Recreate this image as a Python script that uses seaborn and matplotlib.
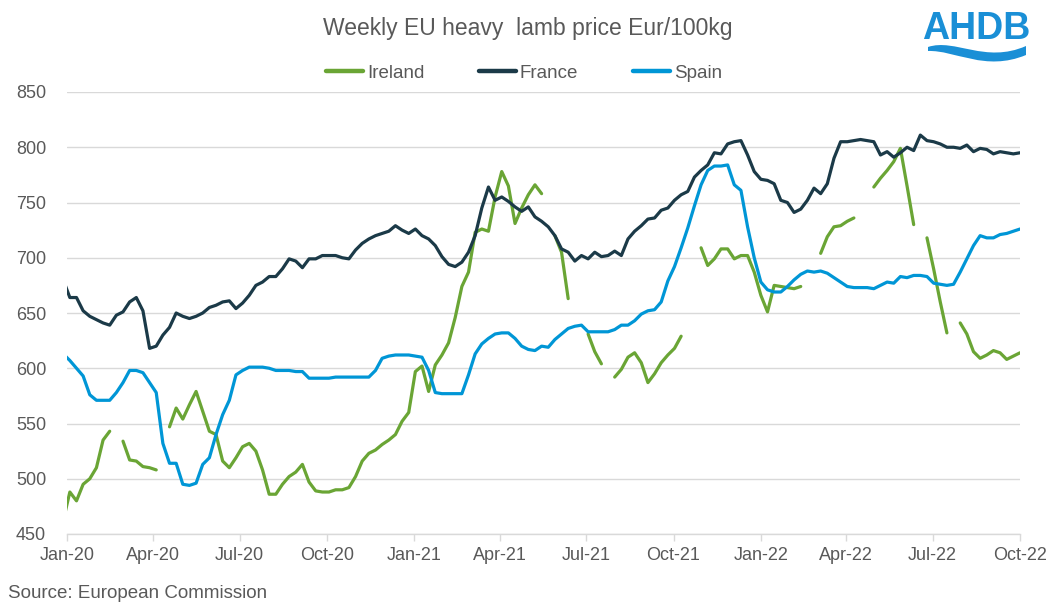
import numpy as np
import pandas as pd
import seaborn as sns
import matplotlib.pyplot as plt
import matplotlib.dates as mdates
from matplotlib.path import Path
from matplotlib.patches import PathPatch

nan = np.nan

# weekly prices (Eur/100kg); first week sits just before the axis start
start_date = "2019-12-28"
countries = ["Ireland", "France", "Spain"]

ireland = [
    462,
    488, 480, 495, 500, 510, 535, 543, nan, 534, 517,
    516, 511, 510, 508, nan, 547, 564, 554, 567, 579,
    561, 543, 540, 516, 510, 519, 529, 532, 525, 508,
    486, 486, 495, 502, 506, 513, 497, 489, 488, 488,
    490, 490, 492, 502, 516, 523, 526, 531, 535, 540,
    552, 560, 597, 602, 579, 603, 612, 623, 646, 674,
    687, 723, 726, 724, 755, 778, 765, 731, 745, 757,
    766, 758, nan, 720, 705, 663, nan, nan, 631, 615,
    604, nan, 592, 599, 610, 614, 605, 587, 595, 605,
    612, 618, 629, nan, nan, 709, 693, 699, 708, 708,
    699, 702, 702, 687, 666, 651, 675, 674, 673, 672,
    674, nan, nan, 704, 719, 728, 729, 733, 736, nan,
    nan, 764, 772, 779, 787, 799, 765, 730, nan, 718,
    690, 660, 632, nan, 641, 631, 615, 609, 612, 616,
    614, 608, 611, 614,
]

france = [
    680,
    664, 664, 652, 647, 644, 641, 639, 648, 651, 660,
    664, 652, 618, 620, 630, 637, 650, 647, 645, 647,
    650, 655, 657, 660, 661, 654, 659, 666, 675, 678,
    683, 683, 690, 699, 697, 691, 699, 699, 702, 702,
    702, 700, 699, 707, 713, 717, 720, 722, 724, 729,
    725, 722, 726, 720, 717, 711, 701, 694, 692, 696,
    705, 720, 745, 764, 752, 755, 751, 746, 742, 746,
    737, 733, 728, 720, 708, 705, 697, 702, 699, 705,
    701, 702, 706, 702, 717, 724, 729, 735, 736, 743,
    745, 752, 757, 760, 773, 779, 784, 795, 794, 803,
    805, 806, 793, 778, 771, 770, 767, 752, 750, 741,
    744, 752, 763, 758, 767, 790, 805, 805, 806, 807,
    806, 805, 793, 796, 791, 795, 800, 797, 811, 806,
    805, 803, 800, 800, 799, 802, 796, 799, 798, 794,
    796, 795, 794, 795,
]

spain = [
    613,
    607, 600, 593, 576, 571, 571, 571, 578, 587, 598,
    598, 596, 587, 578, 532, 514, 514, 495, 494, 496,
    513, 519, 540, 558, 571, 594, 598, 601, 601, 601,
    600, 598, 598, 598, 597, 597, 591, 591, 591, 591,
    592, 592, 592, 592, 592, 592, 598, 609, 611, 612,
    612, 612, 611, 610, 598, 578, 577, 577, 577, 577,
    594, 613, 622, 627, 631, 632, 632, 627, 620, 617,
    616, 620, 619, 626, 631, 636, 638, 639, 633, 633,
    633, 633, 635, 639, 639, 643, 649, 652, 653, 660,
    679, 692, 709, 727, 747, 766, 779, 783, 783, 784,
    766, 761, 728, 700, 678, 671, 669, 669, 674, 680,
    685, 688, 687, 688, 686, 682, 678, 674, 673, 673,
    673, 672, 675, 678, 677, 683, 682, 684, 684, 683,
    677, 676, 675, 676, 687, 699, 711, 720, 718, 718,
    721, 722, 724, 726,
]

y_ticks = [450, 500, 550, 600, 650, 700, 750, 800, 850]

colors = {"Ireland": "#6AA535", "France": "#1B3A48", "Spain": "#0096D6"}
grey = "#595959"
grid_grey = "#D9D9D9"

# ── build long table, one segment id per unbroken run ──
dates = pd.date_range(start_date, periods=len(france), freq="7D")
frames = []
for name, vals in zip(countries, [ireland, france, spain]):
    d = pd.DataFrame({"date": dates, "price": vals, "country": name})
    d["segment"] = d["price"].isna().cumsum()   # gaps in the series break the line
    frames.append(d.dropna())
df = pd.concat(frames, ignore_index=True)

sns.set_theme(style="white")
plt.rcParams["font.family"] = ["Liberation Sans", "DejaVu Sans"]

W, H = 1054, 614
fig = plt.figure(figsize=(W / 100, H / 100), dpi=100)
ax = fig.add_axes([67 / W, 80 / H, 953 / W, 442 / H])

sns.lineplot(
    data=df, x="date", y="price", hue="country", hue_order=countries,
    units="segment", estimator=None, palette=colors, linewidth=2.3, ax=ax,
)
for ln in ax.get_lines():
    ln.set_solid_joinstyle("round")
    ln.set_solid_capstyle("round")

ax.set_xlim(pd.Timestamp("2020-01-01"), pd.Timestamp("2022-10-01"))
ax.set_ylim(450, 850)
ax.set_yticks(y_ticks)
ax.xaxis.set_major_locator(mdates.MonthLocator(bymonth=[1, 4, 7, 10]))
ax.xaxis.set_major_formatter(mdates.DateFormatter("%b-%y"))
ax.set_xlabel("")
ax.set_ylabel("")

ax.yaxis.grid(True, color=grid_grey, linewidth=1)
ax.xaxis.grid(False)
ax.set_axisbelow(True)
for side in ["left", "top", "right"]:
    ax.spines[side].set_visible(False)
ax.spines["bottom"].set_color(grid_grey)
ax.spines["bottom"].set_linewidth(1)

ax.tick_params(axis="y", left=False, length=0, pad=15, labelsize=13, labelcolor=grey)
ax.tick_params(axis="x", bottom=True, length=5, width=1, color=grid_grey,
               direction="out", pad=4, labelsize=13, labelcolor=grey)

handles, labels = ax.get_legend_handles_labels()
if ax.get_legend() is not None:
    ax.get_legend().remove()
for h in handles:
    h.set_linewidth(3.2)
fig.legend(handles, labels, loc="center", bbox_to_anchor=(0.497, 1 - 73 / H),
           ncol=3, frameon=False, fontsize=13.5, handlelength=2.0,
           handletextpad=0.2, columnspacing=2.9, labelcolor=grey)

fig.text(0.501, 1 - 28 / H, "Weekly EU heavy  lamb price Eur/100kg",
         ha="center", va="center", fontsize=16.5, color=grey)
fig.text(8 / W, 1 - 594 / H, "Source: European Commission",
         ha="left", va="center", fontsize=13.5, color=grey)

# AHDB logo: word mark plus a wave underneath
logo_blue = "#1A8FD6"
fig.text(976 / W, 1 - 29 / H, "AHDB", ha="center", va="center",
         fontsize=27, fontweight="bold", color=logo_blue)
px = lambda x, y: (x / W, 1 - y / H)
wave = Path(
    [px(928, 47), px(955, 38), px(985, 64), px(1026, 46),
     px(1026, 55), px(985, 72), px(955, 50), px(928, 51), px(928, 47)],
    [Path.MOVETO, Path.CURVE4, Path.CURVE4, Path.CURVE4,
     Path.LINETO, Path.CURVE4, Path.CURVE4, Path.CURVE4, Path.CLOSEPOLY],
)
fig.patches.append(PathPatch(wave, transform=fig.transFigure,
                             facecolor=logo_blue, edgecolor="none"))

fig.savefig("out.png", dpi=100)
